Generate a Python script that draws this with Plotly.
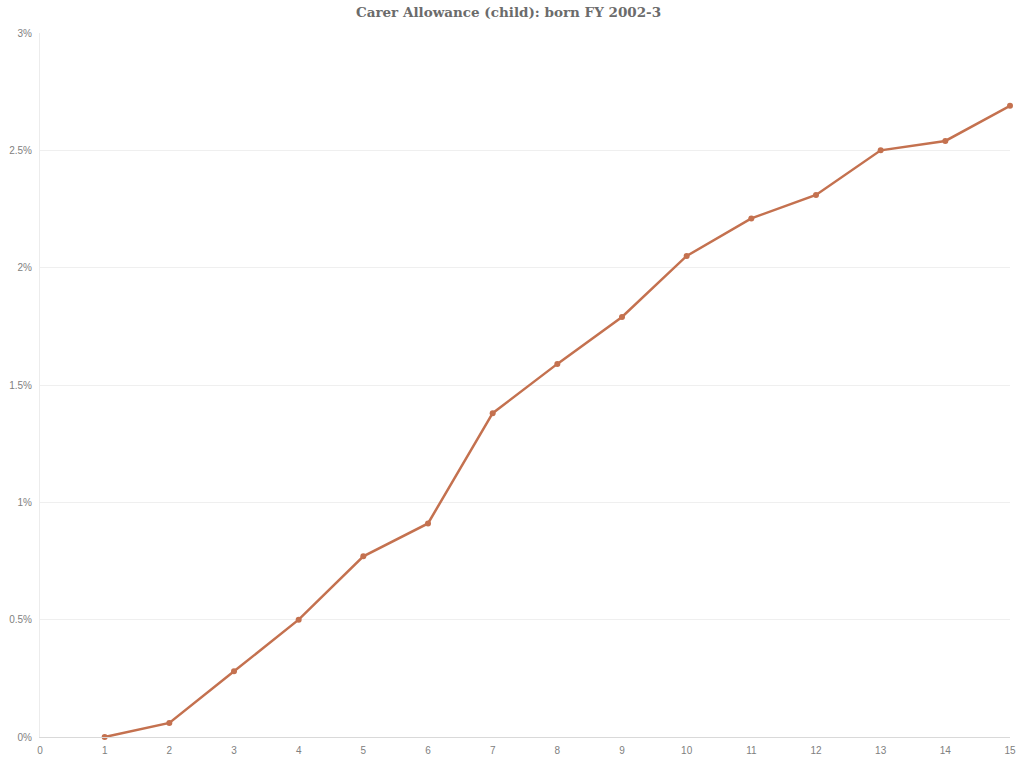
import plotly.graph_objects as go

# years since birth vs share on Carer Allowance (child), in percent
age = [1, 2, 3, 4, 5, 6, 7, 8, 9, 10, 11, 12, 13, 14, 15]
share = [0.0, 0.06, 0.28, 0.50, 0.77, 0.91, 1.38, 1.59, 1.79, 2.05, 2.21, 2.31, 2.50, 2.54, 2.69]

fig = go.Figure()
fig.add_trace(go.Scatter(x=age, y=share, mode='lines+markers',
                         line=dict(color='#c4714f', width=2.5),
                         marker=dict(color='#c4714f', size=6),
                         showlegend=False, cliponaxis=False))

fig.update_layout(title=dict(text='<b>Carer Allowance (child): born FY 2002-3</b>', x=0.5, y=0.99,
                             xanchor='center', yanchor='top',
                             font=dict(family='DejaVu Serif', size=13.5, color='#6b6b6b')),
                  width=1017, height=757, plot_bgcolor='white', paper_bgcolor='white',
                  margin=dict(l=40, r=7, t=33, b=20),
                  font=dict(family='Arial, Liberation Sans', size=10, color='#808080'))
fig.update_xaxes(range=[0, 15], dtick=1, showgrid=False, zeroline=False, automargin=False,
                 showline=True, linecolor='#d9d9d9', linewidth=1, ticks='', ticklen=0,
                 ticklabelstandoff=4)
fig.update_yaxes(range=[0, 3], dtick=0.5, ticksuffix='%', showgrid=True, gridcolor='#efefef',
                 zeroline=False, showline=True, linecolor='#ececec', ticks='', automargin=False,
                 ticklabelstandoff=5)

# page body has a default margin; pin the figure to the window's corner
fig.write_html("out.html", config={'displayModeBar': False, 'responsive': False},
               post_script="document.body.style.margin='0';document.body.style.overflow='hidden';")
